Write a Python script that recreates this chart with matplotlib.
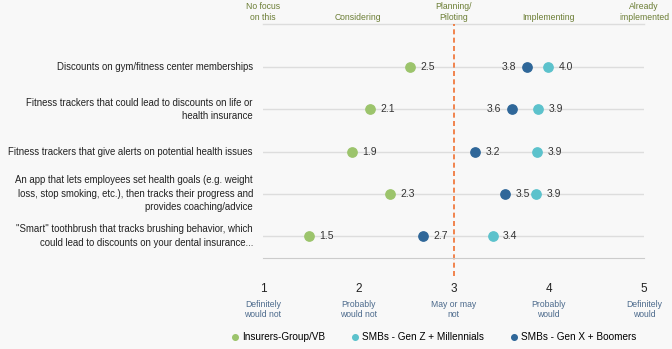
import numpy as np
import matplotlib
matplotlib.use('Agg')
from matplotlib import pyplot as plt
from matplotlib import transforms

plt.rcParams['font.family'] = ['Liberation Sans', 'DejaVu Sans']

# data
items = ['Discounts on gym/fitness center memberships',
         'Fitness trackers that could lead to discounts on life or\nhealth insurance',
         'Fitness trackers that give alerts on potential health issues',
         'An app that lets employees set health goals (e.g. weight\nloss, stop smoking, etc.), then tracks their progress and\nprovides coaching/advice',
         '"Smart" toothbrush that tracks brushing behavior, which\ncould lead to discounts on your dental insurance...']
insurers = [2.54, 2.12, 1.93, 2.33, 1.48]
gen_z = [3.99, 3.89, 3.88, 3.87, 3.41]
gen_x = [3.77, 3.61, 3.23, 3.54, 2.68]
series_names = ['Insurers-Group/VB', 'SMBs - Gen Z + Millennials', 'SMBs - Gen X + Boomers']
# which side the value label goes (1 right, -1 left)
gen_x_side = [-1, -1, 1, 1, 1]

top_labels = ['No focus\non this', 'Considering', 'Planning/\nPiloting', 'Implementing', 'Already\nimplemented']
bottom_labels = ['Definitely\nwould not', 'Probably\nwould not', 'May or may\nnot', 'Probably\nwould', 'Definitely\nwould']
scale = [1, 2, 3, 4, 5]

c_green = '#9cc46c'
c_teal = '#5cc2cc'
c_dark = '#2f6799'
bg = '#f8f8f8'

fig = plt.figure(figsize=(6.72, 3.49), dpi=100, facecolor=bg)
ax = fig.add_axes([263/672, 1-258/349, (644-263)/672, (258-24)/349])
ax.set_facecolor(bg)

ypos = np.arange(len(items))[::-1]
ax.set_xlim(1, 5)
ax.set_ylim(-0.52, 5.02)

for y in ypos:
    ax.axhline(y, color='#dddddd', lw=1, zorder=1)
ax.axhline(5.02, color='#dddddd', lw=1, zorder=1, clip_on=False)
ax.axvline(3, ymin=-0.075, ymax=1.0, color='#f07030', lw=1.2, ls=(0, (3, 2)),
           clip_on=False, zorder=2)

ms = 45
ax.scatter(insurers, ypos, s=ms, color=c_green, zorder=3, label=series_names[0])
ax.scatter(gen_z, ypos, s=ms, color=c_teal, zorder=3, label=series_names[1])
ax.scatter(gen_x, ypos, s=ms, color=c_dark, zorder=3, label=series_names[2])

off = 0.11
for i, y in enumerate(ypos):
    ax.text(insurers[i] + off, y, '%.1f' % insurers[i], fontsize=7.5, color='#333333',
            va='center', ha='left')
    ax.text(gen_z[i] + off, y, '%.1f' % gen_z[i], fontsize=7.5, color='#333333',
            va='center', ha='left')
    s = gen_x_side[i]
    ax.text(gen_x[i] + s*off, y, '%.1f' % gen_x[i], fontsize=7.5, color='#333333',
            va='center', ha='left' if s > 0 else 'right')

# item labels on the left
for i, y in enumerate(ypos):
    ax.text(0.895, y, items[i], fontsize=6.95, color='#222222', ha='right', va='center',
            linespacing=1.45)

for sp in ['top', 'right', 'left']:
    ax.spines[sp].set_visible(False)
ax.spines['bottom'].set_color('#cccccc')
ax.set_yticks([])
ax.set_xticks(scale)
ax.set_xticklabels([str(v) for v in scale], fontsize=8.5, color='#222222')
ax.tick_params(axis='x', length=0, pad=18)

trans = transforms.blended_transform_factory(ax.transData, ax.transAxes)
for v, t in zip(scale, top_labels):
    ax.text(v, 1.01, t, transform=trans, ha='center', va='bottom', fontsize=6.2,
            color='#6b7d34', linespacing=1.25)
for v, t in zip(scale, bottom_labels):
    ax.text(v, -0.178, t, transform=trans, ha='center', va='top', fontsize=6.2,
            color='#4c6a8c', linespacing=1.25)

fig.legend(loc='center left', bbox_to_anchor=(231/672, 1-337/349), ncol=3, frameon=False,
           fontsize=7.2, handletextpad=0.3, columnspacing=2.6, markerscale=0.6,
           handlelength=0.8, borderaxespad=0, borderpad=0)

plt.savefig('out.png', dpi=100, facecolor=bg)
